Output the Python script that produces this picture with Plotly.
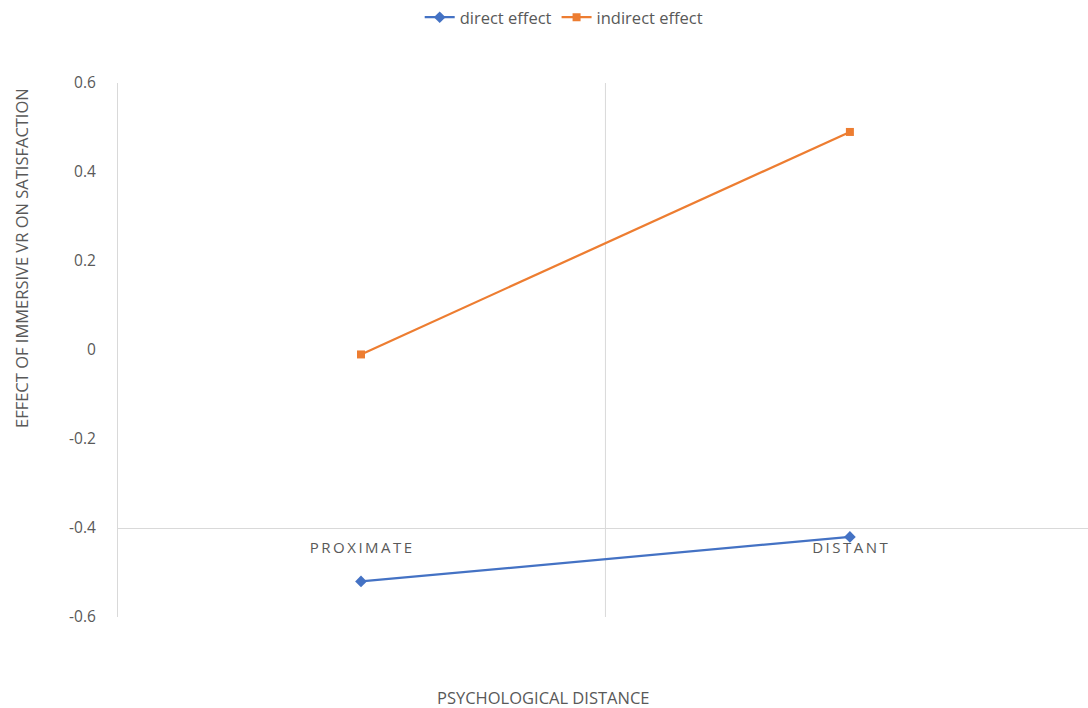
import plotly.graph_objects as go

categories = ["PROXIMATE", "DISTANT"]
direct_effect = [-0.52, -0.42]
indirect_effect = [-0.01, 0.49]
y_ticks = [0.6, 0.4, 0.2, 0, -0.2, -0.4, -0.6]
y_tick_labels = ["0.6", "0.4", "0.2", "0", "-0.2", "-0.4", "-0.6"]

x_pos = list(range(len(categories)))
spaced = ["\u2009".join(list(c)) for c in categories]

BLUE = "#4472C4"
ORANGE = "#ED7D31"
GRID = "#D9D9D9"
TXT = "#595959"
FONT = "Open Sans"

fig = go.Figure()
fig.add_trace(go.Scatter(
    x=x_pos, y=direct_effect, name="direct effect", mode="lines+markers",
    line=dict(color=BLUE, width=2.25),
    marker=dict(symbol="diamond", size=9, color=BLUE),
))
fig.add_trace(go.Scatter(
    x=x_pos, y=indirect_effect, name="indirect effect", mode="lines+markers",
    line=dict(color=ORANGE, width=2.25),
    marker=dict(symbol="square", size=8, color=ORANGE),
))

fig.add_shape(type="line", xref="x", yref="y", x0=0.5, x1=0.5, y0=-0.6, y1=0.6,
              line=dict(color=GRID, width=1), layer="below")

fig.update_layout(
    width=1088, height=708,
    margin=dict(l=118, r=0, t=83, b=91),
    paper_bgcolor="white", plot_bgcolor="white",
    font=dict(family=FONT, color=TXT, size=14),
    showlegend=True,
    legend=dict(orientation="h", x=0.46, xanchor="center", y=1.0, yref="container",
                yanchor="top", font=dict(size=16.5, color=TXT), itemwidth=30),
    xaxis=dict(
        range=[-0.497, 1.487], tickvals=x_pos, ticktext=spaced,
        showgrid=False, zeroline=False, showline=True, linecolor=GRID, linewidth=1,
        anchor="free", position=1/6, ticks="", ticklabelstandoff=6,
        tickfont=dict(size=15, color=TXT, family=FONT),
    ),
    yaxis=dict(
        range=[-0.6, 0.6], tickvals=y_ticks, ticktext=y_tick_labels,
        showgrid=False, zeroline=False, showline=True, linecolor=GRID, linewidth=1,
        ticks="", ticklabelstandoff=18, tickfont=dict(size=15.5, color=TXT, family=FONT),
    ),
    annotations=[
        dict(text="PSYCHOLOGICAL DISTANCE", xref="paper", yref="paper",
             x=(543 - 118) / 970, y=-(697 - 617) / 534, xanchor="center", yanchor="middle",
             showarrow=False, font=dict(size=16.5, color=TXT, family=FONT)),
        dict(text="EFFECT OF IMMERSIVE VR ON SATISFACTION", xref="paper", yref="paper",
             x=-(118 - 21) / 970, y=(617 - 258) / 534, xanchor="center", yanchor="middle",
             textangle=-90, showarrow=False, font=dict(size=16.5, color=TXT, family=FONT)),
    ],
)

fig.write_html("out.html")
